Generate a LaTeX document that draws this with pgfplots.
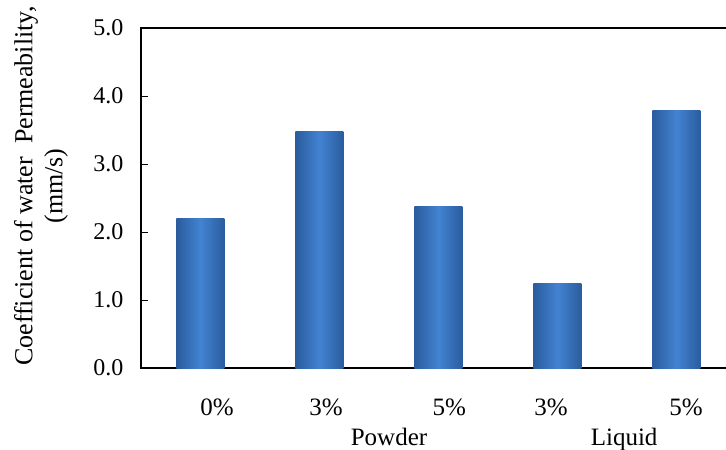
\documentclass[border=0pt]{standalone}
\usepackage{fontspec}
\setmainfont{Liberation Serif}
\newfontfamily\tnr{Liberation Serif}
\usepackage{pgfplots}
\pgfplotsset{compat=1.18}
\definecolor{barMid}{HTML}{4283D2}
\definecolor{barEdge}{HTML}{2B5C9E}
\newcommand{\fs}{\tnr\fontsize{25}{29}\selectfont}
\newcommand{\fy}{\tnr\fontsize{24}{28}\selectfont}
\newcommand{\fl}{\tnr\fontsize{26}{30}\selectfont}
\pgfplotsset{mybar/.style={ybar, bar width=48pt, bar shift=0pt, draw=none, left color=barEdge, right color=barEdge, middle color=barMid}}
\begin{document}
\begin{tikzpicture}
\begin{axis}[
  scale only axis,
  width=595pt, height=340pt,
  xmin=-0.5, xmax=4.5,
  ymin=0, ymax=5,
  ytick={0,1,2,3,4,5},
  xtick={0.14,1.055,2.09,2.945,4.08},
  xticklabels={0\%,3\%,5\%,3\%,5\%},
  x tick style={draw=none},
  y tick style={black, line width=1pt},
  tick align=inside,
  major tick length=7pt,
  ytick pos=left,
  axis line style={black, line width=1.2pt},
  /pgf/number format/assume math mode=true,
  yticklabel={\pgfmathprintnumber[fixed,fixed zerofill,precision=1]{\tick}},
  yticklabel style={font=\fy, xshift=-14pt},
  xticklabel style={font=\fs, anchor=base, yshift=-47pt},
  ylabel={Coefficient of water~~Permeability,\\(mm/s)},
  ylabel style={font=\fl, align=center, at={(axis description cs:0,0.535)}, anchor=center, yshift=100pt},
  clip=false,
]
\addplot[mybar] coordinates {(0,2.20)};
\addplot[mybar] coordinates {(1,3.48)};
\addplot[mybar] coordinates {(2,2.37)};
\addplot[mybar] coordinates {(3,1.24)};
\addplot[mybar] coordinates {(4,3.78)};
\node[font=\fs, inner sep=0pt, anchor=base] at (axis cs:1.584,0) [yshift=-77pt] {Powder};
\node[font=\fs, inner sep=0pt, anchor=base] at (axis cs:3.56,0) [yshift=-77pt] {Liquid};
\coordinate (O) at (rel axis cs:0,0);
\end{axis}
\pgfresetboundingbox
\path[use as bounding box] ([shift={(-141pt,-82pt)}]O) rectangle ++(726pt,450pt);
\end{tikzpicture}
\end{document}
